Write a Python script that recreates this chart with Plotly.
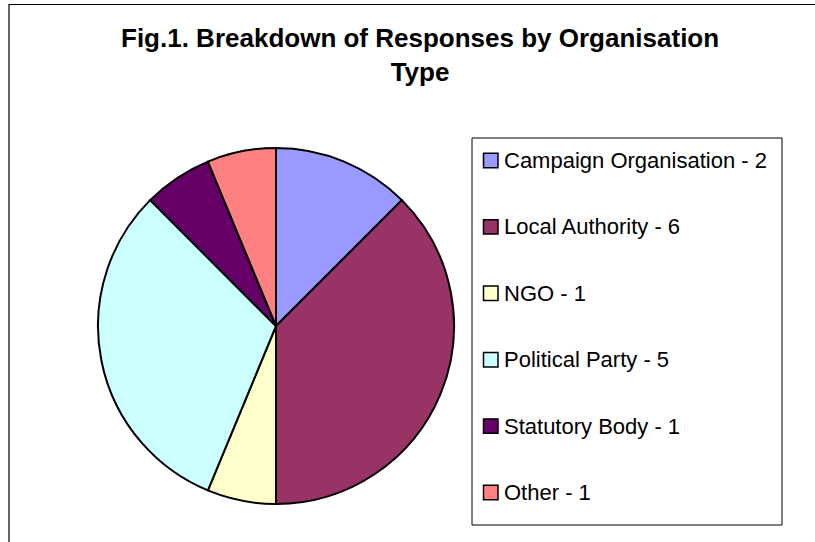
import plotly.graph_objects as go

# ---- data ----
labels = ["Campaign Organisation", "Local Authority", "NGO", "Political Party", "Statutory Body", "Other"]
values = [2, 6, 1, 5, 1, 1]
colors = ["#9999FF", "#993366", "#FFFFCC", "#CCFFFF", "#660066", "#FF8080"]
title_text = "Fig.1. Breakdown of Responses by Organisation<br>Type"

W, H = 815, 542

def px(x):
    return x / W

def py(y):
    return (H - y) / H

cx, cy, r = 276, 326, 178

fig = go.Figure()
fig.add_trace(go.Pie(
    labels=labels,
    values=values,
    marker=dict(colors=colors, line=dict(color="black", width=2)),
    sort=False,
    direction="clockwise",
    rotation=0,
    textinfo="none",
    hoverinfo="label+value",
    showlegend=False,
    domain=dict(x=[px(cx - r), px(cx + r)], y=[py(cy + r), py(cy - r)]),
))

shapes = []
annotations = []

# outer chart frame
shapes.append(dict(type="rect", xref="paper", yref="paper",
                   x0=px(9), x1=1.2, y0=-0.2, y1=py(4.5),
                   line=dict(color="black", width=1.2), fillcolor="rgba(0,0,0,0)", layer="below"))

# legend box
lx0, lx1, ly0, ly1 = 472, 782, 138, 525
shapes.append(dict(type="rect", xref="paper", yref="paper",
                   x0=px(lx0), x1=px(lx1), y0=py(ly1), y1=py(ly0),
                   line=dict(color="black", width=1), fillcolor="white", layer="below"))

first_y, step = 160.5, 66.4
for i, (lab, val, col) in enumerate(zip(labels, values, colors)):
    yc = first_y + i * step
    shapes.append(dict(type="rect", xref="paper", yref="paper",
                       x0=px(483.5), x1=px(498), y0=py(yc + 7.2), y1=py(yc - 7.2),
                       line=dict(color="black", width=1.5), fillcolor=col))
    annotations.append(dict(xref="paper", yref="paper", x=px(502), y=py(yc),
                            xanchor="left", yanchor="middle", showarrow=False,
                            text=f"{lab} - {val}",
                            font=dict(family="Liberation Sans, Arial", size=22, color="black")))

annotations.append(dict(xref="paper", yref="paper", x=px(420), y=py(21),
                        xanchor="center", yanchor="top", showarrow=False,
                        text=f"<b>{title_text}</b>", align="center",
                        font=dict(family="Liberation Sans, Arial", size=26, color="black")))

fig.update_layout(
    width=W, height=H,
    margin=dict(l=0, r=0, t=0, b=0),
    paper_bgcolor="white",
    plot_bgcolor="white",
    shapes=shapes,
    annotations=annotations,
)

fig.write_html("out.html", config={"displayModeBar": False},
               post_script="document.body.style.margin='0px';")
